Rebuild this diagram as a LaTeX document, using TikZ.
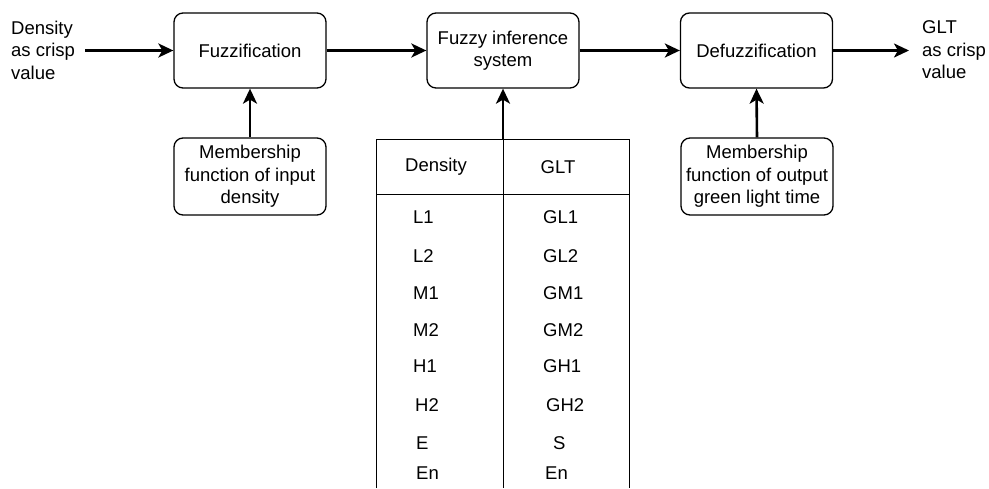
\documentclass[tikz,border=0pt]{standalone}
\usepackage{fontspec}
\setmainfont{Liberation Sans}
\usetikzlibrary{arrows.meta}
\begin{document}
\begin{tikzpicture}[x=1pt,y=-1pt,
  txt/.style={font=\fontsize{18.5}{22.5}\selectfont, align=center, inner sep=0pt},
  blk/.style={txt, draw, line width=1.3pt, rounded corners=9pt, minimum width=152pt, minimum height=75pt},
  arr/.style={line width=2.6pt, -{Stealth[length=15pt,width=14pt,inset=4pt]}},
  cell/.style={font=\fontsize{18.5}{22}\selectfont, inner sep=0pt, anchor=west},
  tline/.style={line width=1pt}]
\useasboundingbox (0,0) rectangle (989,488);
\fill[white] (0,0) rectangle (989,488);
% blocks
\node[blk] (fuzz) at (250,50.5) {Fuzzification};
\node[blk] (fis) at (503,50.5) {Fuzzy inference\\system};
\node[blk] (defuzz) at (756.5,50.5) {Defuzzification};
\node[blk, minimum height=77pt] (memin) at (250,176.5) {Membership\\function of input\\density};
\node[blk, minimum height=77pt] (memout) at (757,176.5) {Membership\\function of output\\green light time};
% side texts
\node[txt, align=left, anchor=west] (inp) at (11,50) {Density\\as crisp\\value};
\node[txt, align=left, anchor=west] (outp) at (922,50) {GLT\\as crisp\\value};
\coordinate (instart) at (85,50.5);
\coordinate (outend) at (909,50.5);
% horizontal arrows
\draw[arr] (instart) -- (fuzz.west);
\draw[arr] (fuzz.east) -- (fis.west);
\draw[arr] (fis.east) -- (defuzz.west);
\draw[arr] (defuzz.east) -- (outend);
% vertical arrows
\draw[arr] (memin.north) -- (fuzz.south);
\draw[arr] (memout.north) -- (defuzz.south);
% table
\coordinate (tabtop) at (503,139);
\draw[tline] (376,488) -- (376,139) -- (629,139) -- (629,488);
\draw[tline] (503,139) -- (503,488);
\draw[tline] (376,194) -- (629,194);
\draw[arr] (tabtop) -- (fis.south);
\node[cell, anchor=center] (hd) at (436,167) {Density};
\node[cell, anchor=center] (hg) at (558,167) {GLT};
\node[cell] (d1) at (413,217) {L1};
\node[cell] (d2) at (413,256) {L2};
\node[cell] (d3) at (413,293) {M1};
\node[cell] (d4) at (413,330) {M2};
\node[cell] (d5) at (413,366) {H1};
\node[cell] (d6) at (415,405) {H2};
\node[cell] (d7) at (416,443) {E};
\node[cell] (d8) at (416,473) {En};
\node[cell] (g1) at (543,217) {GL1};
\node[cell] (g2) at (543,256) {GL2};
\node[cell] (g3) at (543,293) {GM1};
\node[cell] (g4) at (543,330) {GM2};
\node[cell] (g5) at (543,366) {GH1};
\node[cell] (g6) at (546,405) {GH2};
\node[cell] (g7) at (553,443) {S};
\node[cell] (g8) at (545,473) {En};
\end{tikzpicture}
\end{document}
